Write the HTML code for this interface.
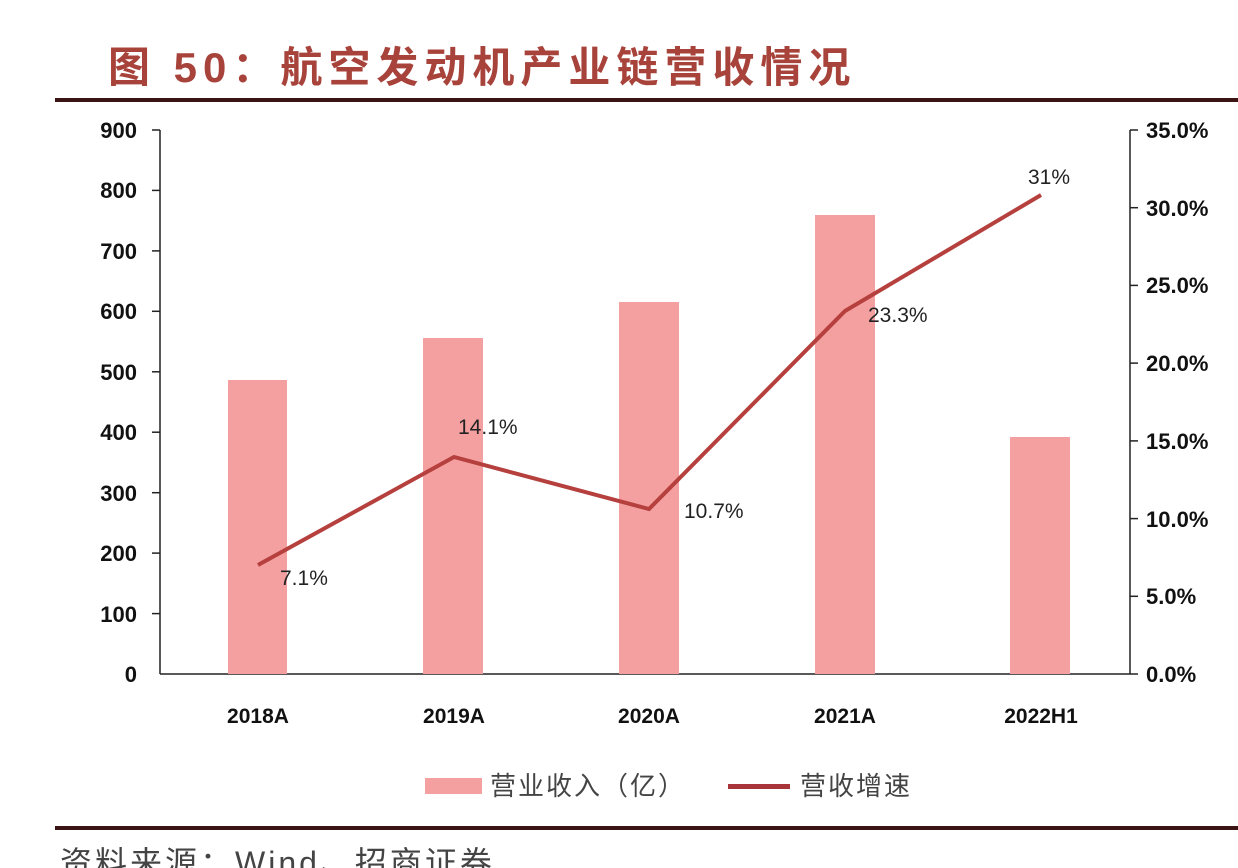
<!DOCTYPE html>
<html><head><meta charset="utf-8"><style>
html,body{margin:0;padding:0;background:#fff;}
svg{display:block;}
</style></head><body>
<svg width="1238" height="868" viewBox="0 0 1238 868" xmlns="http://www.w3.org/2000/svg" font-family="'Liberation Sans','Noto Sans CJK SC',sans-serif">
<rect width="1238" height="868" fill="#fff"/>
<text x="108" y="82" font-size="42" font-weight="bold" fill="#a8433b" letter-spacing="6">图 50：航空发动机产业链营收情况</text>
<rect x="55" y="98" width="1183" height="4" fill="#3a1414"/>
<g stroke="#222" stroke-width="1.5">
<line x1="160" y1="130" x2="160" y2="674"/>
<line x1="160" y1="674" x2="1130" y2="674"/>
<line x1="1130" y1="130" x2="1130" y2="674"/>
<line x1="152" y1="130" x2="160" y2="130"/><line x1="152" y1="190.4" x2="160" y2="190.4"/><line x1="152" y1="250.9" x2="160" y2="250.9"/><line x1="152" y1="311.3" x2="160" y2="311.3"/><line x1="152" y1="371.8" x2="160" y2="371.8"/><line x1="152" y1="432.2" x2="160" y2="432.2"/><line x1="152" y1="492.7" x2="160" y2="492.7"/><line x1="152" y1="553.1" x2="160" y2="553.1"/><line x1="152" y1="613.6" x2="160" y2="613.6"/>
<line x1="1130" y1="130" x2="1138" y2="130"/><line x1="1130" y1="207.7" x2="1138" y2="207.7"/><line x1="1130" y1="285.4" x2="1138" y2="285.4"/><line x1="1130" y1="363.1" x2="1138" y2="363.1"/><line x1="1130" y1="440.9" x2="1138" y2="440.9"/><line x1="1130" y1="518.6" x2="1138" y2="518.6"/><line x1="1130" y1="596.3" x2="1138" y2="596.3"/><line x1="1130" y1="674" x2="1138" y2="674"/>
</g>
<g font-size="22" font-weight="bold" fill="#111" text-anchor="end">
<text x="137" y="138">900</text><text x="137" y="198">800</text><text x="137" y="259">700</text><text x="137" y="319">600</text><text x="137" y="380">500</text><text x="137" y="440">400</text><text x="137" y="501">300</text><text x="137" y="561">200</text><text x="137" y="622">100</text><text x="137" y="682">0</text>
</g>
<g font-size="22" font-weight="bold" fill="#111">
<text x="1146" y="138">35.0%</text><text x="1146" y="216">30.0%</text><text x="1146" y="293">25.0%</text><text x="1146" y="371">20.0%</text><text x="1146" y="449">15.0%</text><text x="1146" y="527">10.0%</text><text x="1146" y="604">5.0%</text><text x="1146" y="682">0.0%</text>
</g>
<g fill="#f4a0a0">
<rect x="228" y="380" width="59" height="294"/>
<rect x="423" y="338" width="60" height="336"/>
<rect x="619" y="302" width="60" height="372"/>
<rect x="815" y="215" width="60" height="459"/>
<rect x="1010" y="437" width="60" height="237"/>
</g>
<polyline points="258,565 454,457 649,509 845,311 1041,195" fill="none" stroke="#b5403d" stroke-width="4"/>
<g font-size="21" fill="#222">
<text x="280" y="585">7.1%</text>
<text x="458" y="434">14.1%</text>
<text x="684" y="518">10.7%</text>
<text x="868" y="322">23.3%</text>
<text x="1028" y="184">31%</text>
</g>
<g font-size="21" font-weight="bold" fill="#111" text-anchor="middle">
<text x="258" y="723">2018A</text><text x="454" y="723">2019A</text><text x="649" y="723">2020A</text><text x="845" y="723">2021A</text><text x="1041" y="723">2022H1</text>
</g>
<rect x="425" y="778" width="57" height="16" fill="#f4a0a0"/>
<text x="490" y="795" font-size="26" fill="#444" letter-spacing="2">营业收入（亿）</text>
<rect x="728" y="784" width="62" height="5" fill="#a8353a"/>
<text x="800" y="795" font-size="26" fill="#444" letter-spacing="2">营收增速</text>
<rect x="55" y="826" width="1183" height="4" fill="#3a1414"/>
<text x="60" y="874" font-size="32" fill="#444" letter-spacing="3">资料来源：Wind、招商证券</text>
</svg>
</body></html>
